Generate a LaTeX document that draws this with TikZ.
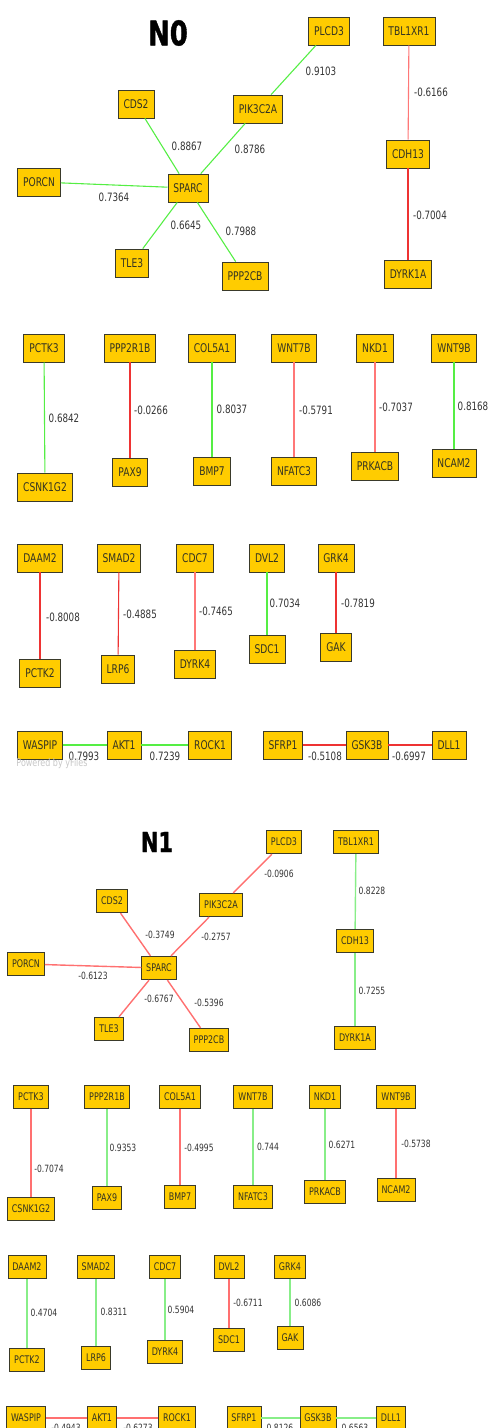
\documentclass[tikz,border=0pt]{standalone}
\usepackage{fontspec}
\newfontfamily\lab[FakeStretch=0.76]{DejaVu Sans}
\newfontfamily\ttlfont[FakeStretch=0.76, FakeBold=1.2]{DejaVu Sans Bold}
\definecolor{boxfill}{HTML}{FFCC00}
\definecolor{boxline}{HTML}{3A3A2A}
\definecolor{txt}{HTML}{333322}
\definecolor{numtxt}{HTML}{333333}
\definecolor{grnA}{HTML}{55EE44}
\definecolor{rdA}{HTML}{EE3333}
\definecolor{pkA}{HTML}{FF7777}
\definecolor{grnB}{HTML}{88EE88}
\definecolor{rdB}{HTML}{FF7070}
\tikzset{
  bA/.style={draw=boxline, fill=boxfill, line width=0.8pt, minimum height=28pt, inner xsep=5.5pt, inner ysep=0pt, text=txt, font={\lab\fontsize{12}{12}\selectfont}},
  bB/.style={draw=boxline, fill=boxfill, line width=0.8pt, minimum height=23.5pt, inner xsep=4.5pt, inner ysep=0pt, text=txt, font={\lab\fontsize{10.5}{10.5}\selectfont}},
  lA/.style={inner sep=0pt, text=numtxt, font={\lab\fontsize{11.5}{11.5}\selectfont}},
  lB/.style={inner sep=0pt, text=numtxt, font={\lab\fontsize{10}{10}\selectfont}},
  ttl/.style={inner sep=0pt, text=black},
  gA/.style={draw=grnA, line width=1.1pt},
  rA/.style={draw=rdA, line width=1.1pt},
  pA/.style={draw=pkA, line width=1.1pt},
  gB/.style={draw=grnB, line width=1.4pt},
  rB/.style={draw=rdB, line width=1.4pt}
}
\begin{document}
\begin{tikzpicture}[x=1pt,y=-1pt]
\useasboundingbox (0,0) rectangle (492,1428);
\clip (0,0) rectangle (492,1428);
% ================= N0 =================
\node[ttl, font={\ttlfont\fontsize{34}{34}\selectfont}] (titleA) at (168,33) {N0};
\node[bA] (SPARCa) at (188,188) {SPARC};
\node[bA] (CDS2a) at (136,104) {CDS2};
\node[bA] (PORCNa) at (39,182) {PORCN};
\node[bA] (TLE3a) at (132,263) {TLE3};
\node[bA] (PPP2CBa) at (245,276) {PPP2CB};
\node[bA] (PIK3C2Aa) at (258,109) {PIK3C2A};
\node[bA] (PLCD3a) at (329,31) {PLCD3};
\node[bA] (TBL1XR1a) at (409,31) {TBL1XR1};
\node[bA] (CDH13a) at (408,154) {CDH13};
\node[bA] (DYRK1Aa) at (408,274) {DYRK1A};
\node[bA] (PCTK3a) at (44,348) {PCTK3};
\node[bA] (CSNK1G2a) at (45,487) {CSNK1G2};
\node[bA] (PPP2R1Ba) at (130,348) {PPP2R1B};
\node[bA] (PAX9a) at (130,472) {PAX9};
\node[bA] (COL5A1a) at (212,348) {COL5A1};
\node[bA] (BMP7a) at (212,471) {BMP7};
\node[bA] (WNT7Ba) at (294,348) {WNT7B};
\node[bA] (NFATC3a) at (294,471) {NFATC3};
\node[bA] (NKD1a) at (375,348) {NKD1};
\node[bA] (PRKACBa) at (375,466) {PRKACB};
\node[bA] (WNT9Ba) at (454,348) {WNT9B};
\node[bA] (NCAM2a) at (454,463) {NCAM2};
\node[bA] (DAAM2a) at (40,558) {DAAM2};
\node[bA] (PCTK2a) at (40,673) {PCTK2};
\node[bA] (SMAD2a) at (119,558) {SMAD2};
\node[bA] (LRP6a) at (118,669) {LRP6};
\node[bA] (CDC7a) at (195,558) {CDC7};
\node[bA] (DYRK4a) at (195,664) {DYRK4};
\node[bA] (DVL2a) at (267,558) {DVL2};
\node[bA] (SDC1a) at (267,649) {SDC1};
\node[bA] (GRK4a) at (336,558) {GRK4};
\node[bA] (GAKa) at (336,647) {GAK};
\node[bA] (WASPIPa) at (40,745) {WASPIP};
\node[bA] (AKT1a) at (124,745) {AKT1};
\node[bA] (ROCK1a) at (210,745) {ROCK1};
\node[bA] (SFRP1a) at (283,745) {SFRP1};
\node[bA] (GSK3Ba) at (367,745) {GSK3B};
\node[bA] (DLL1a) at (449,745) {DLL1};
% edges N0
\draw[gA] (CDS2a) -- (SPARCa);
\draw[gA] (PIK3C2Aa) -- (SPARCa);
\draw[gA] (PORCNa) -- (SPARCa);
\draw[gA] (TLE3a) -- (SPARCa);
\draw[gA] (PPP2CBa) -- (SPARCa);
\draw[gA] (PLCD3a) -- (PIK3C2Aa);
\draw[pA] (TBL1XR1a) -- (CDH13a);
\draw[rA] (CDH13a) -- (DYRK1Aa);
\draw[gA] (PCTK3a) -- (CSNK1G2a);
\draw[rA] (PPP2R1Ba) -- (PAX9a);
\draw[gA] (COL5A1a) -- (BMP7a);
\draw[pA] (WNT7Ba) -- (NFATC3a);
\draw[pA] (NKD1a) -- (PRKACBa);
\draw[gA] (WNT9Ba) -- (NCAM2a);
\draw[rA] (DAAM2a) -- (PCTK2a);
\draw[rA] (SMAD2a) -- (LRP6a);
\draw[pA] (CDC7a) -- (DYRK4a);
\draw[gA] (DVL2a) -- (SDC1a);
\draw[rA] (GRK4a) -- (GAKa);
\draw[gA] (WASPIPa) -- (AKT1a);
\draw[gA] (AKT1a) -- (ROCK1a);
\draw[rA] (SFRP1a) -- (GSK3Ba);
\draw[rA] (GSK3Ba) -- (DLL1a);
% labels N0
\node[lA] (e1a) at (187,146) {0.8867};
\node[lA] (e2a) at (250,149) {0.8786};
\node[lA] (e3a) at (114,197) {0.7364};
\node[lA] (e4a) at (186,225) {0.6645};
\node[lA] (e5a) at (241,231) {0.7988};
\node[lA] (e6a) at (321,71) {0.9103};
\node[lA] (e7a) at (431,92) {-0.6166};
\node[lA] (e8a) at (430,215) {-0.7004};
\node[lA] (e9a) at (64,418) {0.6842};
\node[lA] (e10a) at (151,410) {-0.0266};
\node[lA] (e11a) at (232,409) {0.8037};
\node[lA] (e12a) at (316,410) {-0.5791};
\node[lA] (e13a) at (396,407) {-0.7037};
\node[lA] (e14a) at (473,406) {0.8168};
\node[lA] (e15a) at (63,617) {-0.8008};
\node[lA] (e16a) at (140,614) {-0.4885};
\node[lA] (e17a) at (216,611) {-0.7465};
\node[lA] (e18a) at (285,603) {0.7034};
\node[lA] (e19a) at (358,603) {-0.7819};
\node[lA] (e20a) at (84,756) {0.7993};
\node[lA] (e21a) at (165,756) {0.7239};
\node[lA] (e22a) at (325,756) {-0.5108};
\node[lA] (e23a) at (409,756) {-0.6997};
\node[inner sep=0pt, text=black!22, font={\lab\fontsize{10.5}{10.5}\selectfont}] (powered) at (52,764) {Powered by yFiles};
% ================= N1 =================
\node[ttl, font={\ttlfont\fontsize{27.5}{27.5}\selectfont}] (titleB) at (157,842) {N1};
\node[bB] (SPARCb) at (159,968) {SPARC};
\node[bB] (CDS2b) at (112,901) {CDS2};
\node[bB] (PIK3C2Ab) at (221,905) {PIK3C2A};
\node[bB] (PORCNb) at (26,964) {PORCN};
\node[bB] (TLE3b) at (109,1029) {TLE3};
\node[bB] (PPP2CBb) at (209,1040) {PPP2CB};
\node[bB] (PLCD3b) at (284,842) {PLCD3};
\node[bB] (TBL1XR1b) at (356,842) {TBL1XR1};
\node[bB] (CDH13b) at (355,941) {CDH13};
\node[bB] (DYRK1Ab) at (355,1038) {DYRK1A};
\node[bB] (PCTK3b) at (31,1097) {PCTK3};
\node[bB] (CSNK1G2b) at (31,1209) {CSNK1G2};
\node[bB] (PPP2R1Bb) at (107,1097) {PPP2R1B};
\node[bB] (PAX9b) at (107,1198) {PAX9};
\node[bB] (COL5A1b) at (180,1097) {COL5A1};
\node[bB] (BMP7b) at (180,1197) {BMP7};
\node[bB] (WNT7Bb) at (253,1097) {WNT7B};
\node[bB] (NFATC3b) at (253,1197) {NFATC3};
\node[bB] (NKD1b) at (325,1097) {NKD1};
\node[bB] (PRKACBb) at (325,1192) {PRKACB};
\node[bB] (WNT9Bb) at (396,1097) {WNT9B};
\node[bB] (NCAM2b) at (396,1190) {NCAM2};
\node[bB] (DAAM2b) at (27,1267) {DAAM2};
\node[bB] (PCTK2b) at (27,1360) {PCTK2};
\node[bB] (SMAD2b) at (96,1267) {SMAD2};
\node[bB] (LRP6b) at (96,1358) {LRP6};
\node[bB] (CDC7b) at (165,1267) {CDC7};
\node[bB] (DYRK4b) at (165,1352) {DYRK4};
\node[bB] (DVL2b) at (229,1267) {DVL2};
\node[bB] (SDC1b) at (229,1340) {SDC1};
\node[bB] (GRK4b) at (290,1267) {GRK4};
\node[bB] (GAKb) at (290,1338) {GAK};
\node[bB] (WASPIPb) at (26,1418) {WASPIP};
\node[bB] (AKT1b) at (102,1418) {AKT1};
\node[bB] (ROCK1b) at (177,1418) {ROCK1};
\node[bB] (SFRP1b) at (244,1418) {SFRP1};
\node[bB] (GSK3Bb) at (318,1418) {GSK3B};
\node[bB] (DLL1b) at (391,1418) {DLL1};
% edges N1
\draw[rB] (CDS2b) -- (SPARCb);
\draw[rB] (PIK3C2Ab) -- (SPARCb);
\draw[rB] (PORCNb) -- (SPARCb);
\draw[rB] (TLE3b) -- (SPARCb);
\draw[rB] (PPP2CBb) -- (SPARCb);
\draw[rB] (PLCD3b) -- (PIK3C2Ab);
\draw[gB] (TBL1XR1b) -- (CDH13b);
\draw[gB] (CDH13b) -- (DYRK1Ab);
\draw[rB] (PCTK3b) -- (CSNK1G2b);
\draw[gB] (PPP2R1Bb) -- (PAX9b);
\draw[rB] (COL5A1b) -- (BMP7b);
\draw[gB] (WNT7Bb) -- (NFATC3b);
\draw[gB] (NKD1b) -- (PRKACBb);
\draw[rB] (WNT9Bb) -- (NCAM2b);
\draw[gB] (DAAM2b) -- (PCTK2b);
\draw[gB] (SMAD2b) -- (LRP6b);
\draw[gB] (CDC7b) -- (DYRK4b);
\draw[rB] (DVL2b) -- (SDC1b);
\draw[gB] (GRK4b) -- (GAKb);
\draw[rB] (WASPIPb) -- (AKT1b);
\draw[rB] (AKT1b) -- (ROCK1b);
\draw[gB] (SFRP1b) -- (GSK3Bb);
\draw[gB] (GSK3Bb) -- (DLL1b);
% labels N1
\node[lB] (e1b) at (160,935) {-0.3749};
\node[lB] (e2b) at (216,937) {-0.2757};
\node[lB] (e3b) at (93,976) {-0.6123};
\node[lB] (e4b) at (159,999) {-0.6767};
\node[lB] (e5b) at (209,1003) {-0.5396};
\node[lB] (e6b) at (279,874) {-0.0906};
\node[lB] (e7b) at (372,891) {0.8228};
\node[lB] (e8b) at (372,991) {0.7255};
\node[lB] (e9b) at (49,1169) {-0.7074};
\node[lB] (e10b) at (123,1148) {0.9353};
\node[lB] (e11b) at (199,1148) {-0.4995};
\node[lB] (e12b) at (268,1147) {0.744};
\node[lB] (e13b) at (342,1145) {0.6271};
\node[lB] (e14b) at (416,1144) {-0.5738};
\node[lB] (e15b) at (44,1313) {0.4704};
\node[lB] (e16b) at (114,1312) {0.8311};
\node[lB] (e17b) at (181,1310) {0.5904};
\node[lB] (e18b) at (248,1303) {-0.6711};
\node[lB] (e19b) at (308,1303) {0.6086};
\node[lB] (e20b) at (66,1428) {-0.4943};
\node[lB] (e21b) at (138,1428) {-0.6273};
\node[lB] (e22b) at (280,1428) {0.8126};
\node[lB] (e23b) at (355,1428) {0.6563};
\end{tikzpicture}
\end{document}
